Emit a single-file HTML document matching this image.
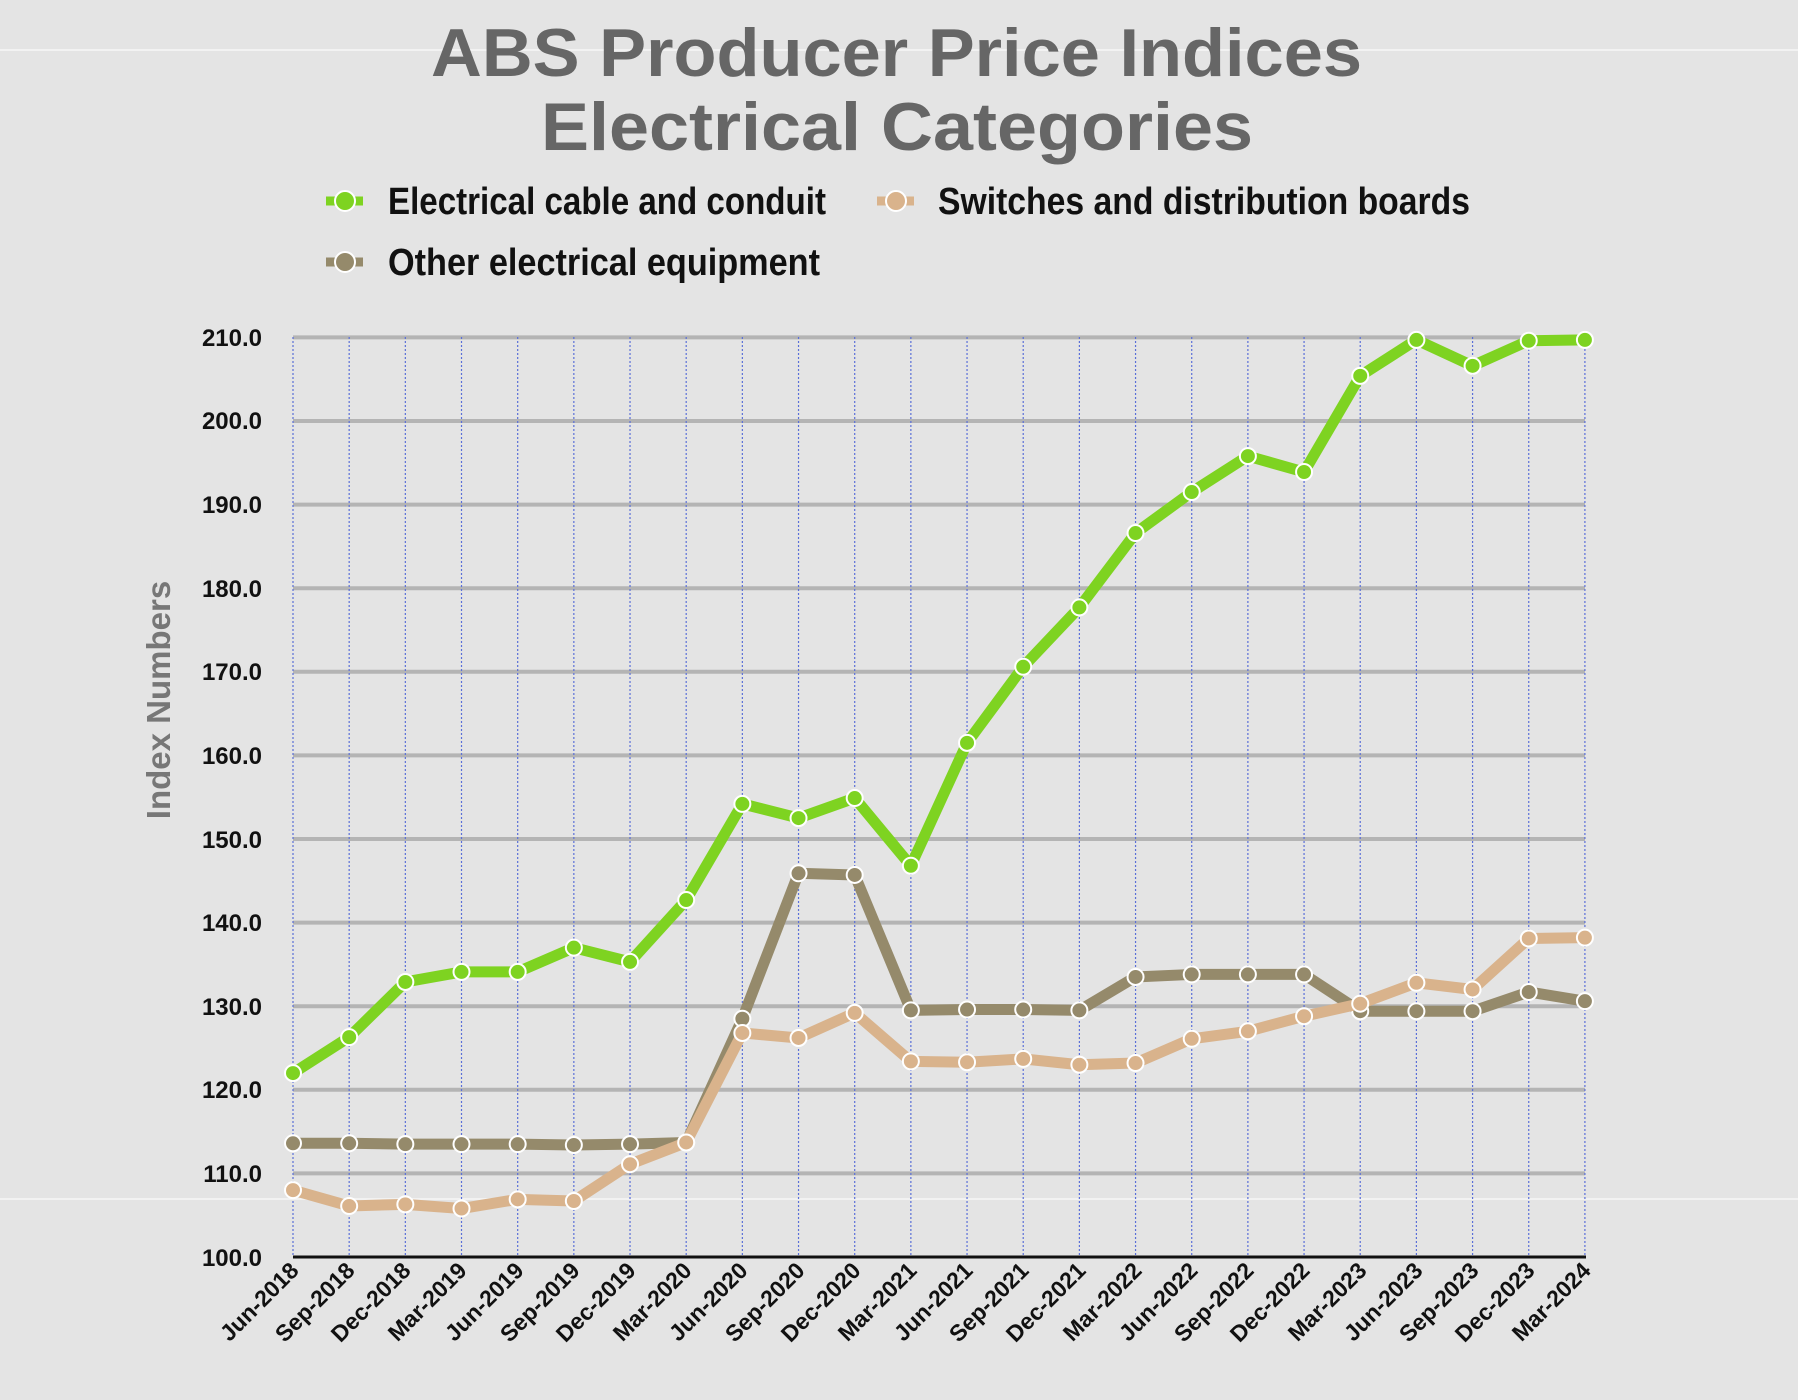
<!DOCTYPE html>
<html><head><meta charset="utf-8"><style>
html,body{margin:0;padding:0;background:#e4e4e4;}
svg{display:block}
.t{font-family:"Liberation Sans",sans-serif;font-weight:bold;fill:#666;font-size:68px}
.lg{font-family:"Liberation Sans Narrow","Liberation Sans",sans-serif;font-weight:bold;font-size:38px;fill:#111}
.yl{font-family:"Liberation Sans Narrow","Liberation Sans",sans-serif;font-weight:bold;font-size:24px;fill:#111;text-anchor:end}
.xl{font-family:"Liberation Sans Narrow","Liberation Sans",sans-serif;font-weight:bold;font-size:23px;fill:#111;text-anchor:end}
</style></head><body>
<svg id="s" width="1798" height="1400" xmlns="http://www.w3.org/2000/svg">
<rect width="1798" height="1400" fill="#e4e4e4"/>
<line x1="0" y1="50" x2="1798" y2="50" stroke="#f2f2f2" stroke-width="2"/>
<line x1="0" y1="1199" x2="1798" y2="1199" stroke="#f2f2f2" stroke-width="2"/>
<text class="t" x="431" y="76" textLength="931" lengthAdjust="spacingAndGlyphs">ABS Producer Price Indices</text>
<text class="t" x="541" y="150" textLength="712" lengthAdjust="spacingAndGlyphs">Electrical Categories</text>
<g>
<line x1="326" y1="201" x2="364" y2="201" stroke="#7ed321" stroke-width="9" stroke-dasharray="9,5"/>
<circle cx="345" cy="201" r="10" fill="#7ed321" stroke="#fff" stroke-width="2"/>
<text class="lg" x="388" y="214" textLength="438" lengthAdjust="spacingAndGlyphs">Electrical cable and conduit</text>
<line x1="877" y1="201" x2="915" y2="201" stroke="#d9b38c" stroke-width="9" stroke-dasharray="9,5"/>
<circle cx="896" cy="201" r="10" fill="#d9b38c" stroke="#fff" stroke-width="2"/>
<text class="lg" x="938" y="214" textLength="532" lengthAdjust="spacingAndGlyphs">Switches and distribution boards</text>
<line x1="326" y1="262" x2="364" y2="262" stroke="#958a6b" stroke-width="9" stroke-dasharray="9,5"/>
<circle cx="345" cy="262" r="10" fill="#958a6b" stroke="#fff" stroke-width="2"/>
<text class="lg" x="388" y="275" textLength="432" lengthAdjust="spacingAndGlyphs">Other electrical equipment</text>
</g>
<text x="170" y="700" transform="rotate(-90 170 700)" style="font-family:'Liberation Sans',sans-serif;font-weight:bold;font-size:33px;fill:#777;text-anchor:middle">Index Numbers</text>
<g id="grid"></g>
<g>
<text class="yl" x="262" y="346">210.0</text>
<text class="yl" x="262" y="429">200.0</text>
<text class="yl" x="262" y="513">190.0</text>
<text class="yl" x="262" y="597">180.0</text>
<text class="yl" x="262" y="680">170.0</text>
<text class="yl" x="262" y="764">160.0</text>
<text class="yl" x="262" y="848">150.0</text>
<text class="yl" x="262" y="931">140.0</text>
<text class="yl" x="262" y="1015">130.0</text>
<text class="yl" x="262" y="1098">120.0</text>
<text class="yl" x="262" y="1182">110.0</text>
<text class="yl" x="262" y="1266">100.0</text>
</g>
<g id="xl">
<text class="xl" transform="translate(300,1272) rotate(-45)">Jun-2018</text>
<text class="xl" transform="translate(356,1272) rotate(-45)">Sep-2018</text>
<text class="xl" transform="translate(412,1272) rotate(-45)">Dec-2018</text>
<text class="xl" transform="translate(468,1272) rotate(-45)">Mar-2019</text>
<text class="xl" transform="translate(525,1272) rotate(-45)">Jun-2019</text>
<text class="xl" transform="translate(581,1272) rotate(-45)">Sep-2019</text>
<text class="xl" transform="translate(637,1272) rotate(-45)">Dec-2019</text>
<text class="xl" transform="translate(693,1272) rotate(-45)">Mar-2020</text>
<text class="xl" transform="translate(749,1272) rotate(-45)">Jun-2020</text>
<text class="xl" transform="translate(806,1272) rotate(-45)">Sep-2020</text>
<text class="xl" transform="translate(862,1272) rotate(-45)">Dec-2020</text>
<text class="xl" transform="translate(918,1272) rotate(-45)">Mar-2021</text>
<text class="xl" transform="translate(974,1272) rotate(-45)">Jun-2021</text>
<text class="xl" transform="translate(1030,1272) rotate(-45)">Sep-2021</text>
<text class="xl" transform="translate(1087,1272) rotate(-45)">Dec-2021</text>
<text class="xl" transform="translate(1143,1272) rotate(-45)">Mar-2022</text>
<text class="xl" transform="translate(1199,1272) rotate(-45)">Jun-2022</text>
<text class="xl" transform="translate(1255,1272) rotate(-45)">Sep-2022</text>
<text class="xl" transform="translate(1311,1272) rotate(-45)">Dec-2022</text>
<text class="xl" transform="translate(1368,1272) rotate(-45)">Mar-2023</text>
<text class="xl" transform="translate(1424,1272) rotate(-45)">Jun-2023</text>
<text class="xl" transform="translate(1480,1272) rotate(-45)">Sep-2023</text>
<text class="xl" transform="translate(1536,1272) rotate(-45)">Dec-2023</text>
<text class="xl" transform="translate(1592,1272) rotate(-45)">Mar-2024</text>
</g>
<g id="ser"></g>
</svg>
<script>
var NS="http://www.w3.org/2000/svg";
function X(i){return 293+56.17*i;}
function Y(v){return 1257-(v-100)*8.36;}
function el(t,a,p){var e=document.createElementNS(NS,t);for(var k in a)e.setAttribute(k,a[k]);p.appendChild(e);return e;}
var g=document.getElementById("grid");
for(var k=1;k<=11;k++){var y=Y(100+10*k);el("line",{x1:293,y1:y,x2:1585,y2:y,stroke:"#b4b4b4","stroke-width":4},g);}
for(var i=0;i<24;i++){el("line",{x1:X(i),y1:337,x2:X(i),y2:1257,stroke:"#5a6fd8","stroke-width":1.2,"stroke-dasharray":"2,2"},g);}
el("line",{x1:293,y1:1257,x2:1586,y2:1257,stroke:"#111","stroke-width":3},g);
var S=[
["#958a6b",[113.6,113.6,113.5,113.5,113.5,113.4,113.5,113.7,128.5,145.9,145.7,129.5,129.6,129.6,129.5,133.5,133.8,133.8,133.8,129.4,129.4,129.4,131.7,130.6]],
["#d9b38c",[108,106.1,106.3,105.8,106.9,106.7,111.1,113.7,126.8,126.2,129.2,123.4,123.3,123.7,123,123.2,126.1,127,128.8,130.3,132.8,132,138.1,138.2]],
["#7ed321",[122,126.3,132.9,134.1,134.1,137,135.3,142.7,154.2,152.5,154.9,146.8,161.5,170.6,177.7,186.6,191.5,195.8,193.9,205.4,209.7,206.6,209.6,209.7]]
];
var sg=document.getElementById("ser");
S.forEach(function(s){
 var pts=s[1].map(function(v,i){return X(i)+","+Y(v);}).join(" ");
 el("polyline",{points:pts,fill:"none",stroke:s[0],"stroke-width":11,"stroke-linejoin":"round"},sg);
 s[1].forEach(function(v,i){el("circle",{cx:X(i),cy:Y(v),r:8,fill:s[0],stroke:"#fff","stroke-width":2},sg);});
});
</script>
</body></html>
